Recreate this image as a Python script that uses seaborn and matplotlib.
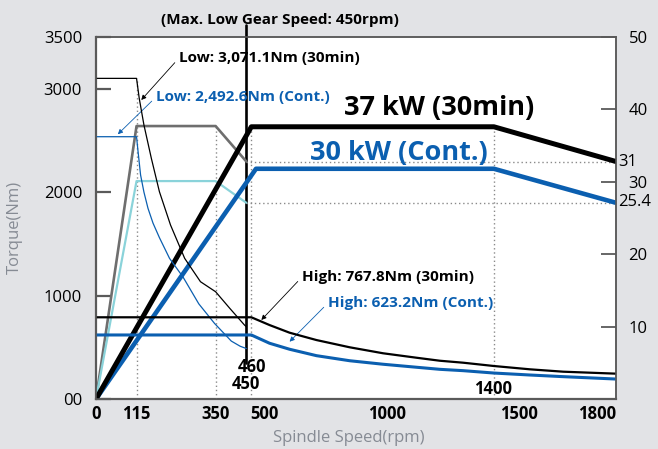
import numpy as np
import matplotlib
matplotlib.use("Agg")
import matplotlib.pyplot as plt
import seaborn as sns

# --- values --------------------------------------------------------------
# low gear torque (Nm) vs spindle speed (rpm)
low30_rpm = [0, 115, 123, 137, 159, 183, 216, 258, 305, 350, 396, 444, 450]
low30_nm = [3100, 3100, 2907, 2649, 2327, 2004, 1682, 1360, 1134, 1037, 877, 715, 699]
lowc_rpm = [0, 115, 119, 127, 137, 149, 164, 183, 213, 253, 300, 347, 401, 430, 450]
lowc_nm = [2536, 2536, 2408, 2166, 2000, 1844, 1700, 1560, 1360, 1180, 920, 730, 560, 510, 488]

# high gear torque (Nm)
high_rpm = [0, 460, 520, 602, 712, 848, 985, 1111, 1198, 1285, 1400, 1534, 1637, 1800]
high30_nm = [790, 790, 715, 641, 570, 500, 442, 399, 370, 351, 319, 287, 264, 245]
highc_nm = [619, 619, 539, 481, 419, 370, 336, 307, 287, 274, 251, 232, 216, 193]

# power (kW)
low_kw_rpm = [0, 115, 350, 450]
low30_kw = [0, 37.7, 37.7, 32.8]
lowc_kw = [0, 30.1, 30.1, 27.1]
high30_kw_rpm = [0, 460, 1400, 1800]
high30_kw = [0, 37.6, 37.6, 32.8]
highc_kw_rpm = [0, 474, 1400, 1800]
highc_kw = [0, 31.8, 31.8, 27.1]

speed_ticks = [0, 115, 350, 500, 1000, 1500, 1800]
torque_ticks = [0, 1000, 2000, 3000, 3500]
torque_labels = ["00", "1000", "2000", "3000", "3500"]
power_ticks = [10, 20, 30, 40, 50]

# --- uneven speed axis, as printed in the brochure -----------------------
rpm_knots = [-2000, 0, 115, 350, 450, 460, 500, 1000, 1400, 1500, 1800, 4000]
pos_knots = [-607.5, 96.5, 137, 216, 246.7, 251.7, 265, 387, 494, 519, 616, 1326.6]


def fwd(x):
    return np.interp(x, rpm_knots, pos_knots)


def inv(p):
    return np.interp(p, pos_knots, rpm_knots)


W, H = 658, 449


def fp(x, y):
    """pixel (from top-left) -> figure fraction"""
    return (x / W, 1 - y / H)


BLUE = "#0b5fb0"
GRAY = "#6e6e6e"
CYAN = "#8ad3da"
SPINE = "#5a5a5a"
LABEL_GRAY = "#868b94"

sns.set_theme(style="white")
plt.rcParams["font.family"] = ["Open Sans", "DejaVu Sans"]

fig = plt.figure(figsize=(W / 100, H / 100), dpi=100, facecolor="#e2e3e6")
ax = fig.add_axes([96 / W, 50 / H, 520 / W, 362 / H])
ax.set_facecolor("white")
ax.set_xscale("function", functions=(fwd, inv))
ax2 = ax.twinx()
ax.set_xlim(0, 1800)
ax.set_ylim(0, 3500)
ax2.set_ylim(0, 50)

# guide lines
dot = dict(color="#8a8a8a", lw=1.0, linestyles=(0, (1, 2)), zorder=1)
ax.vlines(115, 0, 3100, **dot)
ax2.vlines([350], 0, 37.7, **dot)
ax2.vlines([460, 1400], 0, 37.6, **dot)
ax2.hlines([32.8, 27.1], 450, 1800, **dot)

# power curves
sns.lineplot(x=low_kw_rpm, y=low30_kw, ax=ax2, color=GRAY, lw=1.9, estimator=None)
sns.lineplot(x=low_kw_rpm, y=lowc_kw, ax=ax2, color=CYAN, lw=1.6, estimator=None)
sns.lineplot(x=highc_kw_rpm, y=highc_kw, ax=ax2, color=BLUE, lw=3.3, estimator=None)
sns.lineplot(x=high30_kw_rpm, y=high30_kw, ax=ax2, color="black", lw=3.6, estimator=None)

# torque curves (drawn on twin so they stay on top)
to_kw = 50 / 3500
sns.lineplot(x=low30_rpm, y=np.array(low30_nm) * to_kw, ax=ax2, color="black", lw=0.9, estimator=None)
sns.lineplot(x=lowc_rpm, y=np.array(lowc_nm) * to_kw, ax=ax2, color=BLUE, lw=0.9, estimator=None)
sns.lineplot(x=high_rpm, y=np.array(high30_nm) * to_kw, ax=ax2, color="black", lw=1.6, estimator=None)
sns.lineplot(x=high_rpm, y=np.array(highc_nm) * to_kw, ax=ax2, color=BLUE, lw=2.2, estimator=None)

# max low gear speed marker
ax.plot([450, 450], [350, 3620], color="black", lw=1.9, clip_on=False, zorder=5)
fig.text(*fp(280, 20), "(Max. Low Gear Speed: 450rpm)", ha="center", va="center",
         fontsize=11, fontweight="bold", color="black")

# axes styling
for a in (ax, ax2):
    for s in a.spines.values():
        s.set_color(SPINE)
        s.set_linewidth(1.1)
ax.spines["left"].set_linewidth(1.6)
ax.spines["bottom"].set_linewidth(1.6)

ax.set_xticks(speed_ticks)
ax.set_xticklabels([str(t) for t in speed_ticks], fontweight="bold", fontsize=12)
ax.get_xticklabels()[-1].set_ha("right")
ax.set_xticks([500, 1000, 1500], minor=True)
ax.tick_params(axis="x", which="major", length=0, pad=4, labelcolor="black")
ax.tick_params(axis="x", which="minor", direction="in", length=6.5, width=1.3,
               color=SPINE, bottom=True)
ax.set_yticks(torque_ticks)
ax.set_yticklabels(torque_labels, fontsize=12)
ax.tick_params(axis="y", direction="in", length=11, width=1.6, color=SPINE,
               pad=10, labelcolor="black")
ax2.set_yticks(power_ticks)
ax2.set_yticklabels([str(t) for t in power_ticks], fontsize=12)
ax2.tick_params(axis="y", direction="in", length=11, width=1.3, color=SPINE,
                pad=9, labelcolor="black")
ax.grid(False)
ax2.grid(False)

ax.set_xlabel("")
ax.set_ylabel("")
ax2.set_ylabel("")
fig.text(*fp(349, 438), "Spindle Speed(rpm)", ha="center", va="center",
         fontsize=12, color=LABEL_GRAY)
fig.text(*fp(15, 227), "Torque(Nm)", ha="center", va="center", rotation=90,
         fontsize=12, color=LABEL_GRAY)

# big power labels
fig.text(*fp(344, 108), "37 kW (30min)", ha="left", va="center",
         fontsize=19.5, fontweight="bold", color="black")
fig.text(*fp(310, 153), "30 kW (Cont.)", ha="left", va="center",
         fontsize=19.5, fontweight="bold", color=BLUE)

# values on the right edge
fig.text(*fp(618, 162), "31", ha="left", va="center", fontsize=12, color="black")
fig.text(*fp(618, 202), "25.4", ha="left", va="center", fontsize=12, color="black")

# speed notes inside the chart
for txt, x, y in [("460", 252.5, 366.5), ("450", 246, 384), ("1400", 493, 389)]:
    fig.text(*fp(x, y), txt, ha="center", va="center", fontsize=12,
             fontweight="bold", color="black")

# torque call-outs
notes = [
    ("Low: 3,071.1Nm (30min)", (129, 2891), (179, 58), "black"),
    ("Low: 2,492.6Nm (Cont.)", (62, 2560), (156, 97), BLUE),
    ("High: 767.8Nm (30min)", (490, 764), (302, 277), "black"),
    ("High: 623.2Nm (Cont.)", (602, 554), (328, 303), BLUE),
]
for txt, xy, xyt, col in notes:
    ax.annotate(txt, xy=xy, xycoords="data", xytext=fp(*xyt), textcoords="figure fraction",
                ha="left", va="center", fontsize=11, fontweight="bold", color=col,
                arrowprops=dict(arrowstyle="-|>", color=col, lw=0.6, mutation_scale=7,
                                relpos=(0, 0.5), shrinkA=1, shrinkB=0),
                zorder=6)

fig.savefig("out.png", dpi=100, facecolor=fig.get_facecolor())
